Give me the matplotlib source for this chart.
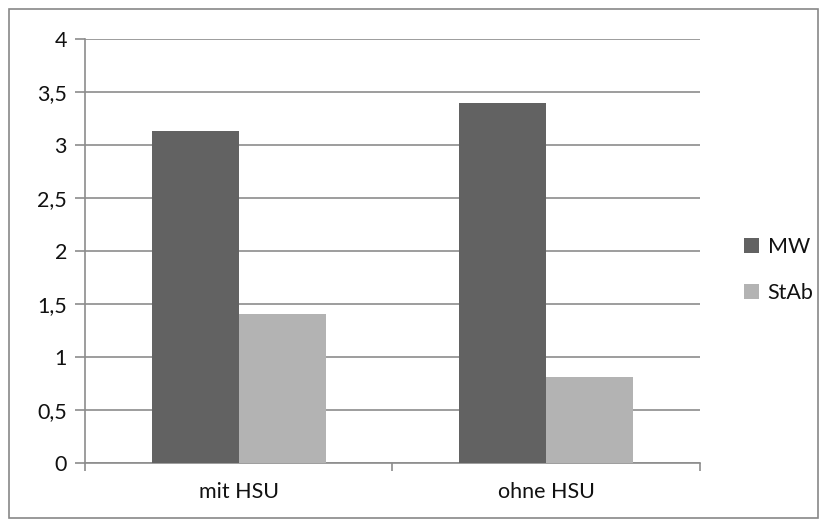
import numpy as np
import matplotlib.pyplot as plt
from matplotlib.patches import Rectangle

plt.rcParams['font.family'] = ['Lato', 'DejaVu Sans']

categories = ['mit HSU', 'ohne HSU']
mw = [3.13, 3.40]
stab = [1.41, 0.81]
yticks = [0, 0.5, 1, 1.5, 2, 2.5, 3, 3.5, 4]

fig = plt.figure(figsize=(8.27, 5.27), dpi=100)
ax = fig.add_axes([0.1028, 0.1214, 0.7436, 0.8046])

# outer chart frame
fig.patches.append(Rectangle((9/827, 9/527), 809/827, 509/527, transform=fig.transFigure,
                             fill=False, edgecolor='#888888', linewidth=1.2))

x = np.array([0.5, 1.5])
w = 0.283
ax.bar(x - w/2, mw, w, color='#626262', label='MW', zorder=3)
ax.bar(x + w/2, stab, w, color='#b3b3b3', label='StAb', zorder=3)

ax.set_xlim(0, 2)
ax.set_ylim(0, 4)
ax.set_yticks(yticks)
ax.set_yticklabels([f'{v:g}'.replace('.', ',') for v in yticks])
ax.yaxis.grid(True, color='#8c8c8c', linewidth=1.2, zorder=0)

# category ticks sit on the boundaries, labels in the middle
ax.set_xticks([0, 1, 2])
ax.set_xticklabels([])
ax.set_xticks(x, minor=True)
ax.set_xticklabels(categories, minor=True)
ax.tick_params(axis='x', which='minor', length=0, pad=14, labelsize=15.5, labelcolor='#111111')
ax.tick_params(axis='x', which='major', length=6, color='#8c8c8c', width=1.2)
ax.tick_params(axis='y', length=7, color='#8c8c8c', width=1.2, labelsize=15.5,
               pad=6, labelcolor='#111111')

for side in ['top', 'right']:
    ax.spines[side].set_visible(False)
for side in ['left', 'bottom']:
    ax.spines[side].set_color('#8c8c8c')
    ax.spines[side].set_linewidth(1.2)

leg = ax.legend(loc='center left', bbox_to_anchor=(1.04, 0.455), frameon=False, fontsize=15.5,
                handlelength=0.7, handleheight=0.7, handletextpad=0.4, labelspacing=1.2)
for t in leg.get_texts():
    t.set_color('#111111')

fig.savefig('out.png', dpi=100)
